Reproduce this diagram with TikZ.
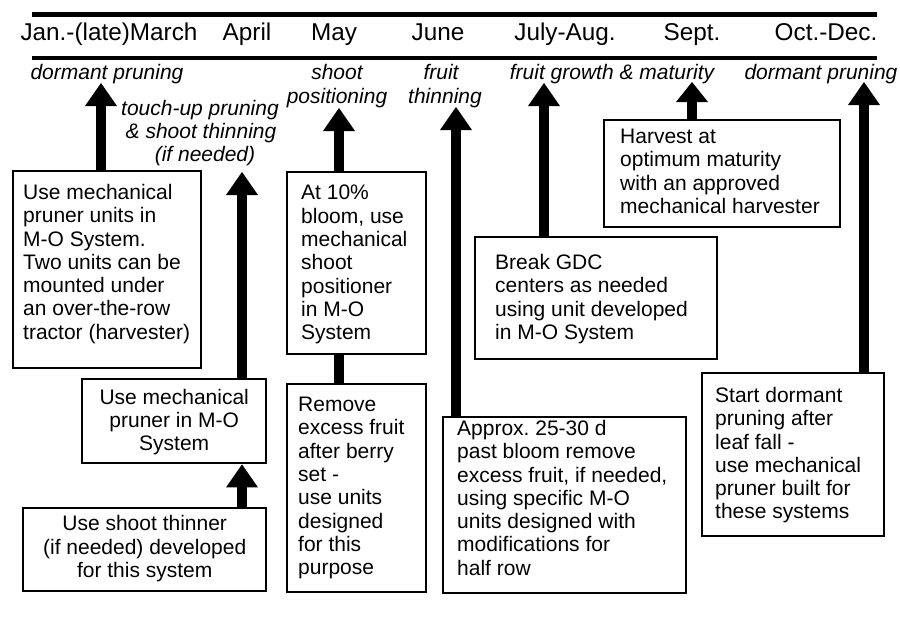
\documentclass[tikz,border=0pt]{standalone}
\usepackage{fontspec}
\setmainfont{Liberation Sans}
\usetikzlibrary{arrows.meta}
\frenchspacing
\begin{document}
\begin{tikzpicture}[x=1pt,y=-1pt,
  boxnode/.style={draw, line width=2.4pt, inner sep=0pt, anchor=north west},
  txt/.style={font=\fontsize{21}{23.3}\selectfont, inner sep=0pt, align=left, anchor=north west},
  ctxt/.style={font=\fontsize{21}{23.3}\selectfont, inner sep=0pt, align=center},
  month/.style={font=\fontsize{24.3}{27}\selectfont, inner sep=0pt, anchor=base},
  stage/.style={font=\fontsize{21}{23}\selectfont\itshape, inner sep=0pt, anchor=base},
  rule/.style={line width=4.5pt},
  arr/.style={line width=10.5pt, -{Triangle[width=32pt,length=23pt,line width=0pt]}},
  shaft/.style={line width=10pt}
]
\fill[white] (0,0) rectangle (900,621);
\useasboundingbox (0,0) rectangle (900,621);

% header rules
\draw[rule] (32,14.5) -- (877,14.5);
\draw[rule] (32,58) -- (877,58);

% months
\node[month] (m1) at (109,40) {Jan.-(late)March};
\node[month] (m2) at (247,40) {April};
\node[month] (m3) at (334,40) {May};
\node[month] (m4) at (438,40) {June};
\node[month] (m5) at (565,40) {July-Aug.};
\node[month] (m6) at (692,40) {Sept.};
\node[month] (m7) at (826,40) {Oct.-Dec.};

% stages
\node[stage] (s1) at (107,79) {dormant pruning};
\node[stage] (s2a) at (337,79) {shoot};
\node[stage] (s2b) at (337,103) {positioning};
\node[stage] (s3a) at (441,79) {fruit};
\node[stage] (s3b) at (445,103) {thinning};
\node[stage] (s4) at (612,79) {fruit growth \& maturity};
\node[stage] (s5) at (821,79) {dormant pruning};
\node[stage] (s6a) at (200,115) {touch-up pruning};
\node[stage] (s6b) at (201,138) {\& shoot thinning};
\node[stage] (s6c) at (205,161) {(if needed)};

% boxes
\node[boxnode, minimum width=188pt, minimum height=197pt] (b1) at (12,170) {};
\node[boxnode, minimum width=184pt, minimum height=84pt] (b2) at (81,378) {};
\node[boxnode, minimum width=243pt, minimum height=83pt] (b3) at (22,507) {};
\node[boxnode, minimum width=139pt, minimum height=182pt] (b4) at (286,171) {};
\node[boxnode, minimum width=139pt, minimum height=208pt] (b5) at (286,383) {};
\node[boxnode, minimum width=243pt, minimum height=176pt] (b6) at (442,416) {};
\node[boxnode, minimum width=242pt, minimum height=122pt] (b7) at (474,236) {};
\node[boxnode, minimum width=236pt, minimum height=107pt] (b8) at (603,119) {};
\node[boxnode, minimum width=182pt, minimum height=163pt] (b9) at (701,372) {};

% box texts
\node[txt] (t1) at (23,184) {Use mechanical\\pruner units in\\M-O System.\\Two units can be\\mounted under\\an over-the-row\\tractor (harvester)};
\node[ctxt] (t2) at ([yshift=-1pt]b2.center) {Use mechanical\\pruner in M-O\\System};
\node[ctxt] (t3) at ([yshift=1pt]b3.center) {Use shoot thinner\\(if needed) developed\\for this system};
\node[txt] (t4) at (301,185) {At 10\%\\bloom, use\\mechanical\\shoot\\positioner\\in M-O\\System};
\node[txt] (t5) at (298,397) {Remove\\excess fruit\\after berry\\set -\\use units\\designed\\for this\\purpose};
\node[txt] (t6) at (457,420) {Approx. 25-30 d\\past bloom remove\\excess fruit, if needed,\\using specific M-O\\units designed with\\modifications for\\half row};
\node[txt] (t7) at (495,254) {Break GDC\\centers as needed\\using unit developed\\in M-O System};
\node[txt] (t8) at (620,129) {Harvest at\\optimum maturity\\with an approved\\mechanical harvester};
\node[txt] (t9) at (715,387) {Start dormant\\pruning after\\leaf fall -\\use mechanical\\pruner built for\\these systems};

% arrow tips
\coordinate (p1) at (101,83);
\coordinate (p2) at (242,172);
\coordinate (p3) at (242,0);
\coordinate (p4) at (339,108);
\coordinate (p5) at (456,107);
\coordinate (p6) at (544,83);
\coordinate (p7) at (692,82);
\coordinate (p8) at (864,82);

% connectors
\draw[arr] (b1.north -| p1) -- (p1);
\draw[arr] (b2.north -| p2) -- (p2);
\draw[arr] (b3.north -| p3) -- (b2.south -| p3);
\draw[arr] (b4.north -| p4) -- (p4);
\draw[shaft] (b5.north -| p4) -- (b4.south -| p4);
\draw[arr] (b6.north -| p5) -- (p5);
\draw[arr] (b7.north -| p6) -- (p6);
\draw[arr, -{Triangle[width=32pt,length=20pt,line width=0pt]}] (b8.north -| p7) -- (p7);
\draw[arr] (b9.north -| p8) -- (p8);
\end{tikzpicture}
\end{document}
